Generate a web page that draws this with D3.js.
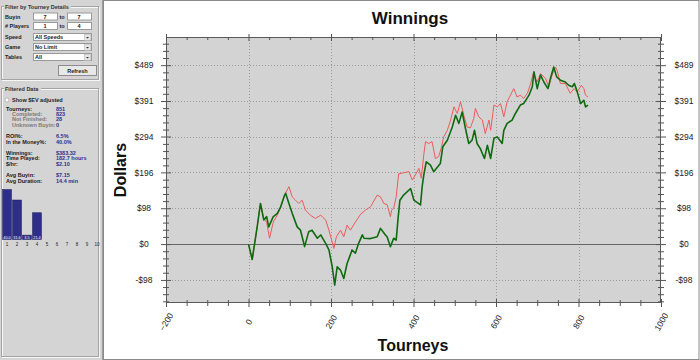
<!DOCTYPE html>
<html><head><meta charset="utf-8">
<script src="https://cdn.jsdelivr.net/npm/d3@7"></script>
<style>body{margin:0;background:#fff;overflow:hidden}svg{display:block}</style>
</head><body>
<svg id="c" width="700" height="360"></svg>
<script>
// ---------- DATA ----------
const actualTourney = [0,9,21,29,37,44,49,60,70,78,86,90,98,106,118,126,136,146,154,167,175,187,195,203,209,215,223,231,239,245,251,259,267,276,280,296,312,320,332,336,344,352,358,363,367,376,393,401,417,421,425,431,441,449,465,471,482,494,502,510,518,526,534,542,548,554,562,572,579,587,595,603,615,619,627,639,647,659,667,680,688,692,700,708,716,726,732,740,747,756,768,776,785,790,797,805,813,817,823];
const actualWinnings = [0,-42,47,111,66,75,47,75,84,102,129,139,111,84,47,38,-7,34,38,16,25,2,-16,-62,-112,-62,-71,-94,-53,-35,-16,-25,2,25,16,15,20,43,25,20,-7,16,11,75,120,134,152,120,107,157,189,225,216,198,220,266,284,320,352,330,361,316,275,284,311,275,261,234,270,234,289,293,275,311,330,339,357,380,384,407,430,471,425,462,443,425,453,484,457,448,443,434,430,439,416,384,393,375,380];
const evTourney = [0,9,21,29,37,44,51,60,70,78,86,90,98,106,114,122,130,138,150,162,175,187,195,207,213,223,231,239,247,259,272,284,296,312,320,328,336,344,347,352,358,364,376,389,397,405,413,419,425,429,437,445,453,461,468,473,482,490,498,506,514,522,530,538,546,550,558,567,574,583,587,595,603,611,619,627,635,643,651,659,667,676,684,690,700,708,720,728,736,744,748,756,768,780,789,797,807,813,817,823];
const evWinnings = [0,-42,47,111,70,60,16,60,80,100,130,140,157,129,120,111,120,93,79,70,79,66,38,-12,20,38,20,52,38,60,82,93,102,134,129,111,108,75,93,98,129,192,195,198,175,190,207,180,245,280,275,280,234,239,266,293,311,339,375,357,389,352,320,318,343,371,348,339,302,339,311,380,375,384,348,389,407,425,402,407,398,412,439,466,443,466,453,430,462,484,475,439,439,412,425,416,434,425,407,402];
const xTickValues = [-200,0,200,400,600,800,1000];
const yTickValues = [-98,0,98,196,294,391,489];
const yTickLabels = ["-$98","$0","$98","$196","$294","$391","$489"];

const statLabels = ["Tourneys:","Completed:","Not Finished:","Unknown Buyin:","ROI%:","In the Money%:","Winnings:","Time Played:","$/hr:","Avg Buyin:","Avg Duration:"];
const statValues = ["851","823","28","0","6.5%","40.0%","$383.32","182.7 hours","$2.10","$7.15","14.4 min"];
const finishPlaces = [1,2,3,4,5,6,7,8,9,10];
const finishPct = [40.0,31.6,3.5,21.4,0,0,0,0,0,0];

// ---------- SETUP ----------
const svg = d3.select('#c');
const FONT = "'Liberation Sans', Arial, sans-serif";
const X0=166, X1=661, Y0=37, Y1=303;
const x = d3.scaleLinear().domain([-200,1000]).range([X0,X1]);
const y = d3.scaleLinear().domain([-161,566]).range([Y1,Y0]);

// chart pane
svg.append('rect').attr('x',103.5).attr('y',0.5).attr('width',595.5).attr('height',359).attr('fill','#fff').attr('stroke','#8a8a8a');
svg.append('rect').attr('x',X0).attr('y',Y0).attr('width',X1-X0).attr('height',Y1-Y0).attr('fill','#d3d3d3');

// grid
const grid = svg.append('g').attr('stroke','#9a9a9a').attr('stroke-width',1).attr('stroke-dasharray','1,2');
xTickValues.slice(1,-1).forEach(v=>grid.append('line').attr('x1',Math.round(x(v))+0.5).attr('x2',Math.round(x(v))+0.5).attr('y1',Y0).attr('y2',Y1));
yTickValues.filter(v=>v!==0).forEach(v=>grid.append('line').attr('y1',Math.round(y(v))+0.5).attr('y2',Math.round(y(v))+0.5).attr('x1',X0).attr('x2',X1));
// zero line
svg.append('line').attr('x1',X0).attr('x2',X1).attr('y1',Math.round(y(0))+0.5).attr('y2',Math.round(y(0))+0.5).attr('stroke','#666').attr('stroke-width',1.2);

// series
const line = d3.line().x(d=>x(d[0])).y(d=>y(d[1]));
svg.append('path').datum(d3.zip(evTourney,evWinnings)).attr('d',line).attr('fill','none').attr('stroke','#ee5c5c').attr('stroke-width',1).attr('stroke-linejoin','round');
svg.append('path').datum(d3.zip(actualTourney,actualWinnings)).attr('d',line).attr('fill','none').attr('stroke','#106a10').attr('stroke-width',1.6).attr('stroke-linejoin','round');

// plot border
svg.append('rect').attr('x',X0+0.5).attr('y',Y0+0.5).attr('width',X1-X0-1).attr('height',Y1-Y0-1).attr('fill','none').attr('stroke','#5a5a5a');

// axes
const step = 489/5;
const yMinor = d3.range(-10,35).map(k=>k*step/5).filter((v,i)=>v>=-161&&v<=566&&Math.abs(Math.round(v/step)*step-v)>1);
const xMinor = d3.range(-200,1001,50).filter(v=>v%200!==0);
function clean(g){g.select('.domain').remove();g.selectAll('line').attr('stroke','#555');g.selectAll('text').attr('font-family',FONT).attr('font-size',8.5).attr('fill','#222');}

const gL = svg.append('g').attr('transform',`translate(${X0},0)`).call(d3.axisLeft(y).tickValues(yTickValues).tickFormat((d,i)=>yTickLabels[i])).call(clean);
gL.selectAll('.tick line').attr('x1',-5).attr('x2',5);
gL.selectAll('.tick text').attr('text-anchor','middle').attr('x',-22);
const gLm = svg.append('g').attr('transform',`translate(${X0},0)`).call(d3.axisLeft(y).tickValues(yMinor).tickFormat('')).call(clean);
gLm.selectAll('.tick line').attr('x1',-3).attr('x2',3);

const gR = svg.append('g').attr('transform',`translate(${X1},0)`).call(d3.axisRight(y).tickValues(yTickValues).tickFormat((d,i)=>yTickLabels[i])).call(clean);
gR.selectAll('.tick line').attr('x1',-5).attr('x2',5);
gR.selectAll('.tick text').attr('text-anchor','middle').attr('x',23);
const gRm = svg.append('g').attr('transform',`translate(${X1},0)`).call(d3.axisRight(y).tickValues(yMinor).tickFormat('')).call(clean);
gRm.selectAll('.tick line').attr('x1',-3).attr('x2',3);

const gB = svg.append('g').attr('transform',`translate(0,${Y1})`).call(d3.axisBottom(x).tickValues(xTickValues).tickFormat(d3.format('d'))).call(clean);
gB.selectAll('.tick line').attr('y1',-4).attr('y2',4);
gB.selectAll('.tick text').attr('text-anchor','middle').attr('y',0).attr('dy','0.32em').attr('transform','translate(0,19) rotate(-60)');
const gBm = svg.append('g').attr('transform',`translate(0,${Y1})`).call(d3.axisBottom(x).tickValues(xMinor).tickFormat('')).call(clean);
gBm.selectAll('.tick line').attr('y1',-3).attr('y2',3);

const gT = svg.append('g').attr('transform',`translate(0,${Y0})`).call(d3.axisTop(x).tickValues(xTickValues).tickFormat('')).call(clean);
gT.selectAll('.tick line').attr('y1',-3).attr('y2',4);
const gTm = svg.append('g').attr('transform',`translate(0,${Y0})`).call(d3.axisTop(x).tickValues(xMinor).tickFormat('')).call(clean);
gTm.selectAll('.tick line').attr('y1',0).attr('y2',3);

// titles
svg.append('text').attr('x',410).attr('y',24).attr('text-anchor','middle').attr('font-family',FONT).attr('font-weight','bold').attr('font-size',17).attr('fill','#111').text('Winnings');
svg.append('text').attr('x',413).attr('y',351).attr('text-anchor','middle').attr('font-family',FONT).attr('font-weight','bold').attr('font-size',16).attr('fill','#111').text('Tourneys');
svg.append('text').attr('transform',`translate(126,${(Y0+Y1)/2}) rotate(-90)`).attr('text-anchor','middle').attr('font-family',FONT).attr('font-weight','bold').attr('font-size',16).attr('fill','#111').text('Dollars');

// ---------- LEFT PANEL ----------
const P = svg.append('g');
P.append('rect').attr('x',0).attr('y',0).attr('width',103).attr('height',360).attr('fill','#d4d4d4');
P.append('line').attr('x1',102.5).attr('x2',102.5).attr('y1',0).attr('y2',360).attr('stroke','#9c9c9c');
function groupBox(y0,y1,title,tw){
  P.append('rect').attr('x',2.5).attr('y',y0+0.5).attr('width',97).attr('height',y1-y0).attr('fill','none').attr('stroke','#f6f6f6');
  P.append('rect').attr('x',1.5).attr('y',y0-0.5).attr('width',97).attr('height',y1-y0).attr('fill','none').attr('stroke','#a4a4a4');
  P.append('rect').attr('x',4).attr('y',y0-3).attr('width',tw).attr('height',6).attr('fill','#d4d4d4');
  P.append('text').attr('x',5).attr('y',y0+2).attr('font-family',FONT).attr('font-weight','bold').attr('font-size',5.5).attr('fill','#333').text(title);
}
groupBox(7,80,'Filter by Tourney Details',67);
groupBox(89,357,'Filtered Data',37);

function txt(x0,y0,s,opt={}){return P.append('text').attr('x',x0).attr('y',y0).attr('font-family',FONT).attr('font-weight',opt.w||'bold').attr('font-size',opt.s||5.5).attr('fill',opt.c||'#222').attr('text-anchor',opt.a||'start').text(s);}
function box(x0,y0,w,h){P.append('rect').attr('x',x0+0.5).attr('y',y0+0.5).attr('width',w).attr('height',h).attr('fill','#fff').attr('stroke','#9a9a9a');}
// filter rows
const filterLabels = ['Buyin','# Players','Speed','Game','Tables'];
const rowC = [16.5,26,36.5,46.5,56.5];
filterLabels.forEach((l,i)=>txt(5,rowC[i]+2,l));
box(33,12.5,24,7); box(67,12.5,24,7);
txt(45,18.5,'7',{a:'middle'}); txt(79,18.5,'7',{a:'middle'}); txt(62,18.5,'to',{a:'middle'});
box(33,22,24,7); box(67,22,24,7);
txt(45,28,'1',{a:'middle'}); txt(79,28,'4',{a:'middle'}); txt(62,28,'to',{a:'middle'});
['All Speeds','No Limit','All'].forEach((s,i)=>{
  const yy=rowC[i+2]-3.5; box(33,yy,58,7);
  P.append('rect').attr('x',84.5).attr('y',yy+1.5).attr('width',6).attr('height',6).attr('fill','#e4e4e4').attr('stroke','#b0b0b0').attr('stroke-width',0.5);
  P.append('path').attr('d',`M86,${yy+4}l1.5,1.5l1.5,-1.5z`).attr('fill','#333');
  txt(35,yy+5.7,s);
});
P.append('rect').attr('x',58.5).attr('y',65.5).attr('width',38).attr('height',10).attr('fill','#e8e8e8').attr('stroke','#8c8c8c');
txt(77.5,72.5,'Refresh',{a:'middle'});
// filtered data
P.append('circle').attr('cx',7).attr('cy',100).attr('r',2).attr('fill','#fff').attr('stroke','#8c8c8c').attr('stroke-width',0.5);
txt(12,102,'Show $EV adjusted');
const statY = [110.5,115.8,121.2,126.6,138.2,143.6,155,160.4,165.8,177.4,183.4];
const indent = [0,1,1,1,0,0,0,0,0,0,0];
statLabels.forEach((l,i)=>{
  txt(indent[i]?12:6,statY[i],l,{c:indent[i]?'#7a7a7a':'#1a1a1a'});
  txt(56,statY[i],statValues[i],{c:'#2f2f8f'});
});
// finish histogram
const hx = d3.scaleBand().domain(finishPlaces).range([2,102]).paddingInner(0.1).paddingOuter(0.05);
const hy = d3.scaleLinear().domain([0,40]).range([239.5,189.5]);
P.selectAll('rect.bar').data(finishPct.map((v,i)=>({p:finishPlaces[i],v}))).enter().filter(d=>d.v>0).append('rect')
  .attr('x',d=>hx(d.p)).attr('width',hx.bandwidth()).attr('y',d=>hy(d.v)).attr('height',d=>hy(0)-hy(d.v))
  .attr('fill','#2e2e88').attr('stroke','#1a1a5a').attr('stroke-width',0.5);
finishPct.forEach((v,i)=>{ if(v>0) txt(hx(finishPlaces[i])+hx.bandwidth()/2,238.5,v.toFixed(1),{s:3.8,c:'#fff',a:'middle',w:'normal'}); });
finishPlaces.forEach(p=>txt(hx(p)+hx.bandwidth()/2,246,String(p),{s:4.5,a:'middle',w:'normal',c:'#222'}));
</script>
</body></html>
